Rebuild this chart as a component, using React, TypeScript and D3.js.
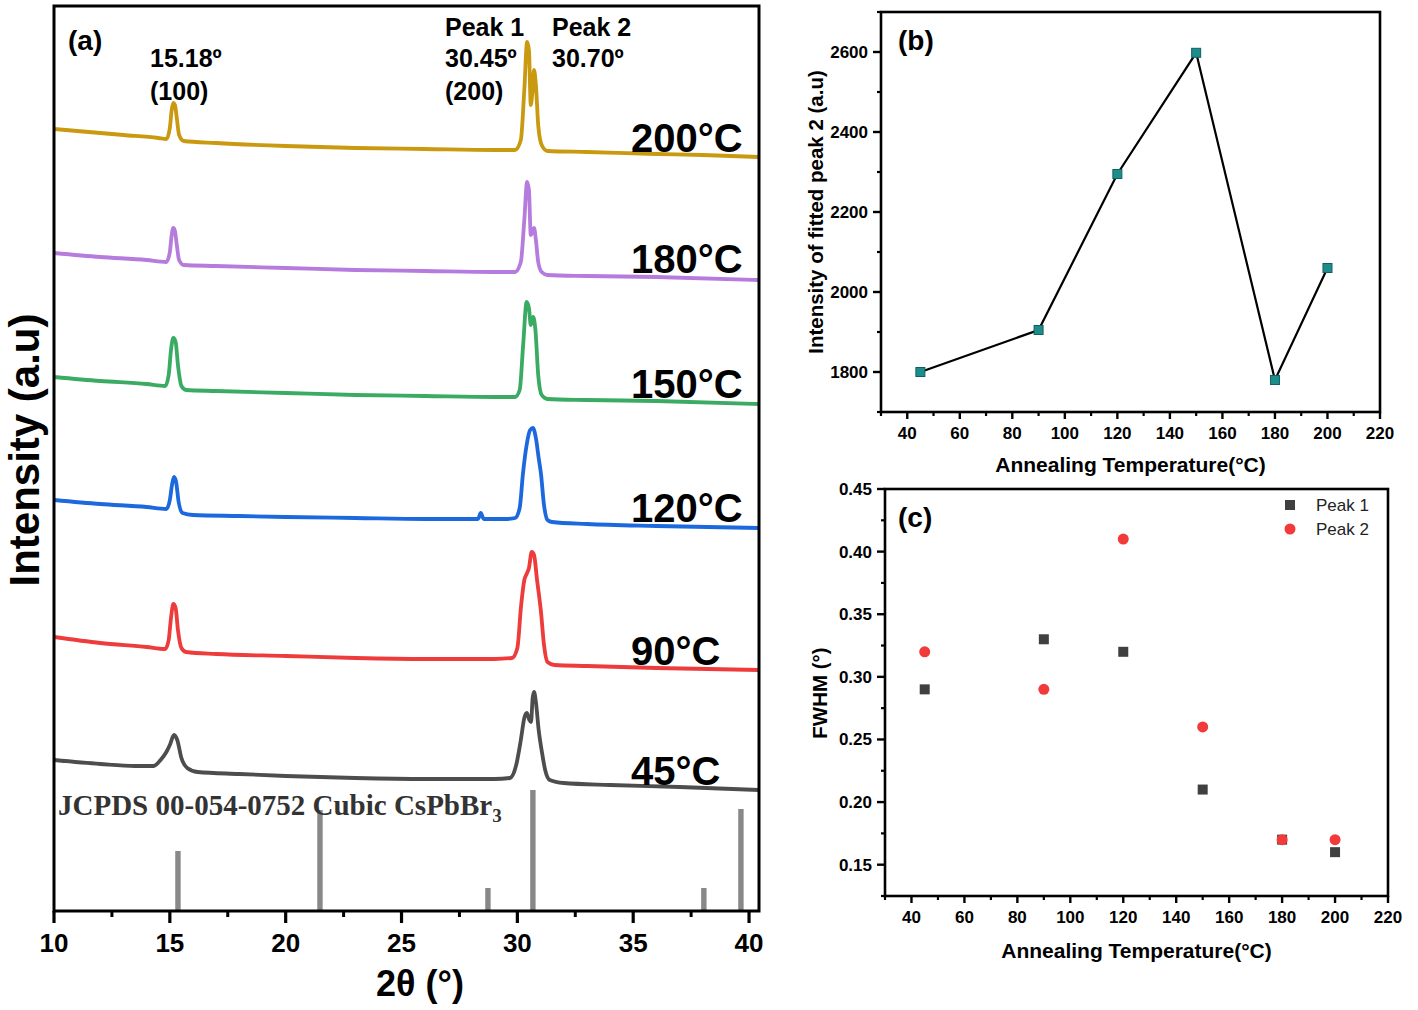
import React from 'react';
import * as d3 from 'd3';

const FONT = '"Liberation Sans", Arial, Helvetica, sans-serif';
const SERIF = '"Liberation Serif", "Times New Roman", serif';

// ---------- Panel (a): XRD patterns, [2θ (°), stacked intensity (a.u.)] ----------
const xrd200: [number, number][] = [
  [10, 782], [11.5, 779], [13, 776], [14.5, 773], [14.85, 772], [15.0, 783], [15.08, 801], [15.15, 808],
  [15.22, 806], [15.3, 793], [15.4, 776], [15.6, 770], [17, 768], [20, 765], [23, 763], [26, 762],
  [29, 761], [29.9, 761], [30.15, 771], [30.3, 821], [30.42, 869], [30.5, 861], [30.58, 806], [30.65, 819],
  [30.72, 841], [30.8, 826], [30.9, 786], [31.05, 766], [31.3, 760], [33, 759], [36, 757], [38, 756], [40.43, 754],
];
const xrd180: [number, number][] = [
  [10, 658], [12, 654], [14, 651], [14.85, 649], [15.0, 659], [15.08, 676], [15.15, 683], [15.22, 680],
  [15.3, 666], [15.4, 651], [15.6, 646], [17, 645], [20, 643], [23, 641], [26, 640], [29, 639],
  [29.9, 639], [30.15, 649], [30.3, 691], [30.42, 729], [30.5, 721], [30.58, 676], [30.65, 679], [30.72, 683],
  [30.8, 671], [30.9, 649], [31.05, 639], [31.3, 636], [33, 635], [36, 634], [40.43, 631],
];
const xrd150: [number, number][] = [
  [10, 534], [12, 530], [14, 527], [14.8, 525], [14.95, 536], [15.05, 561], [15.15, 573], [15.25, 569],
  [15.35, 546], [15.5, 525], [15.7, 521], [17, 520], [20, 518], [23, 516], [26, 515], [29, 514],
  [29.9, 514], [30.1, 521], [30.25, 566], [30.4, 609], [30.5, 603], [30.58, 586], [30.68, 594], [30.78, 581],
  [30.9, 536], [31.05, 516], [31.3, 512], [33, 511], [36, 510], [40.43, 507],
];
const xrd120: [number, number][] = [
  [10, 411], [12, 407], [14, 404], [14.85, 402], [15.0, 411], [15.1, 427], [15.18, 434], [15.27, 429],
  [15.38, 409], [15.55, 398], [16, 396], [18, 395], [20, 394], [23, 393], [26, 392], [28.3, 392],
  [28.42, 398], [28.55, 392], [29.5, 392], [29.9, 393], [30.1, 403], [30.24, 437], [30.4, 466], [30.55, 481],
  [30.67, 483], [30.8, 473], [30.92, 453], [31.02, 437], [31.15, 406], [31.3, 391], [31.5, 389], [33, 387],
  [36, 385], [40.43, 383],
];
const xrd90: [number, number][] = [
  [10, 274], [12, 268], [14, 264], [14.8, 262], [14.95, 271], [15.05, 293], [15.15, 307], [15.25, 303],
  [15.35, 281], [15.5, 263], [15.7, 259], [17, 257], [20, 255], [23, 253], [26, 252], [29, 252],
  [29.77, 253], [30.0, 263], [30.16, 305], [30.3, 331], [30.4, 337], [30.5, 343], [30.62, 359], [30.72, 356],
  [30.85, 331], [31.02, 299], [31.15, 266], [31.3, 249], [31.6, 246], [33, 245], [36, 243], [40.43, 241],
];
const xrd45: [number, number][] = [
  [10, 151], [12, 147], [13.5, 145], [14.3, 145], [14.6, 151], [14.85, 159], [15.0, 166], [15.18, 176],
  [15.32, 171], [15.5, 153], [15.75, 143], [16.2, 139], [18, 137], [20, 135], [23, 133], [26, 132],
  [29, 132], [29.68, 133], [29.95, 146], [30.15, 171], [30.3, 193], [30.41, 198], [30.52, 191], [30.59, 189],
  [30.66, 213], [30.72, 219], [30.8, 209], [30.92, 181], [31.06, 159], [31.2, 141], [31.4, 131], [32, 128],
  [34, 126], [37, 124], [40.43, 121],
];
const xrdLabels = ['200°C', '180°C', '150°C', '120°C', '90°C', '45°C'];
const xrdColors = ['#C9990F', '#B57BDD', '#3BAA63', '#1C68DD', '#EE3B3B', '#4D4D4D'];
const xrdData = [xrd200, xrd180, xrd150, xrd120, xrd90, xrd45];

// JCPDS 00-054-0752 reference lines
const refAngles = [15.35, 21.48, 28.73, 30.67, 38.05, 39.65];
const refHeights = [60, 101, 23, 121, 23, 102];

const xTicksA = [10, 15, 20, 25, 30, 35, 40];
const xMinorA = [12.5, 17.5, 22.5, 27.5, 32.5, 37.5];

// ---------- Panels (b) and (c) ----------
const annealTemps = [45, 90, 120, 150, 180, 200];
const peak2Intensity = [1800, 1905, 2295, 2598, 1780, 2060];
const fwhmPeak1 = [0.29, 0.33, 0.32, 0.21, 0.17, 0.16];
const fwhmPeak2 = [0.32, 0.29, 0.41, 0.26, 0.17, 0.17];

const tempTicks = [40, 60, 80, 100, 120, 140, 160, 180, 200, 220];
const tempMinor = [30, 50, 70, 90, 110, 130, 150, 170, 190, 210];
const intTicks = [1800, 2000, 2200, 2400, 2600];
const intMinor = [1700, 1900, 2100, 2300, 2500, 2700];
const fwhmTicks = [0.15, 0.2, 0.25, 0.3, 0.35, 0.4, 0.45];
const fwhmMinor = [0.125, 0.175, 0.225, 0.275, 0.325, 0.375, 0.425];

function PanelA() {
  const x = d3.scaleLinear().domain([10, 40.43]).range([54, 759]);
  const y = d3.scaleLinear().domain([0, 905]).range([911, 6]);
  const line = d3
    .line<[number, number]>()
    .x((d) => x(d[0]))
    .y((d) => y(d[1]))
    .curve(d3.curveMonotoneX);
  const labelBase = [152, 273, 398, 522, 665, 785];
  const [x0, x1] = x.range();
  const [yb, yt] = y.range();
  return (
    <g>
      <defs>
        <clipPath id="clipA">
          <rect x={x0} y={yt} width={x1 - x0} height={yb - yt} />
        </clipPath>
      </defs>
      <g clipPath="url(#clipA)">
        {refAngles.map((a, i) => (
          <rect key={i} x={x(a) - 2.7} y={y(refHeights[i])} width={5.4} height={y(0) - y(refHeights[i])} fill="#888888" />
        ))}
        {xrdData.map((d, i) => (
          <path key={i} d={line(d) || ''} fill="none" stroke={xrdColors[i]} strokeWidth={3.8} strokeLinejoin="round" />
        ))}
      </g>
      <text x={58} y={815} fontFamily={SERIF} fontWeight="bold" fontSize={29} fill="#333">
        JCPDS 00-054-0752 Cubic CsPbBr<tspan fontSize={19} dy={7}>3</tspan>
      </text>
      {xrdLabels.map((l, i) => (
        <text key={l} x={631} y={labelBase[i]} fontFamily={FONT} fontWeight="bold" fontSize={40} fill="#000">
          {l}
        </text>
      ))}
      <rect x={x0} y={yt} width={x1 - x0} height={yb - yt} fill="none" stroke="#000" strokeWidth={3} />
      {xTicksA.map((t) => (
        <g key={t}>
          <line x1={x(t)} x2={x(t)} y1={yb} y2={yb + 12} stroke="#000" strokeWidth={3.2} />
          <text x={x(t)} y={952} textAnchor="middle" fontFamily={FONT} fontWeight="bold" fontSize={26}>
            {t}
          </text>
        </g>
      ))}
      {xMinorA.map((t) => (
        <line key={t} x1={x(t)} x2={x(t)} y1={yb} y2={yb + 6} stroke="#000" strokeWidth={3} />
      ))}
      <text x={420} y={996} textAnchor="middle" fontFamily={FONT} fontWeight="bold" fontSize={36}>
        2θ (°)
      </text>
      <text
        transform="translate(39,450) rotate(-90)"
        textAnchor="middle"
        fontFamily={FONT}
        fontWeight="bold"
        fontSize={42}
      >
        Intensity (a.u)
      </text>
      <text x={68} y={50} fontFamily={FONT} fontWeight="bold" fontSize={28}>(a)</text>
      <g fontFamily={FONT} fontWeight="bold" fontSize={25}>
        <text x={150} y={67}>15.18º</text>
        <text x={150} y={100}>(100)</text>
        <text x={445} y={36}>Peak 1</text>
        <text x={445} y={67}>30.45º</text>
        <text x={445} y={100}>(200)</text>
        <text x={552} y={36}>Peak 2</text>
        <text x={552} y={67}>30.70º</text>
      </g>
    </g>
  );
}

function AxesBox({
  x,
  y,
  yTicks,
  yMinor,
  fmt,
  xTitle,
  yTitle,
  yTitleY,
  xTitleBase,
  xLabelBase,
}: any) {
  const [x0, x1] = x.range();
  const [yb, yt] = y.range();
  return (
    <g fontFamily={FONT}>
      <rect x={x0} y={yt} width={x1 - x0} height={yb - yt} fill="none" stroke="#000" strokeWidth={2.6} />
      {tempTicks.map((t: number) => (
        <g key={t}>
          <line x1={x(t)} x2={x(t)} y1={yb} y2={yb + 7} stroke="#000" strokeWidth={2.4} />
          <text x={x(t)} y={xLabelBase} textAnchor="middle" fontWeight="bold" fontSize={17}>{t}</text>
        </g>
      ))}
      {tempMinor.map((t: number) => (
        <line key={t} x1={x(t)} x2={x(t)} y1={yb} y2={yb + 4} stroke="#000" strokeWidth={2.2} />
      ))}
      {yTicks.map((t: number) => (
        <g key={t}>
          <line x1={x0 - 8} x2={x0} y1={y(t)} y2={y(t)} stroke="#000" strokeWidth={2.4} />
          <text x={x0 - 13} y={y(t) + 6} textAnchor="end" fontWeight="bold" fontSize={17}>{fmt(t)}</text>
        </g>
      ))}
      {yMinor.map((t: number) => (
        <line key={t} x1={x0 - 4} x2={x0} y1={y(t)} y2={y(t)} stroke="#000" strokeWidth={2.2} />
      ))}
      <text x={(x0 + x1) / 2} y={xTitleBase} textAnchor="middle" fontWeight="bold" fontSize={21}>
        {xTitle}
      </text>
      <text
        transform={`translate(${x0 - 58},${yTitleY}) rotate(-90)`}
        textAnchor="middle"
        fontWeight="bold"
        fontSize={20.5}
      >
        {yTitle}
      </text>
    </g>
  );
}

function PanelB() {
  const x = d3.scaleLinear().domain([30, 220]).range([881, 1380]);
  const y = d3.scaleLinear().domain([1700, 2700]).range([412, 12]);
  const pts = annealTemps.map((t, i) => [t, peak2Intensity[i]] as [number, number]);
  const line = d3.line<[number, number]>().x((d) => x(d[0])).y((d) => y(d[1]));
  return (
    <g>
      <AxesBox
        x={x}
        y={y}
        yTicks={intTicks}
        yMinor={intMinor}
        fmt={(v: number) => String(v)}
        xTitle="Annealing Temperature(°C)"
        yTitle="Intensity of fitted peak 2 (a.u)"
        yTitleY={212}
        xTitleBase={472}
        xLabelBase={439}
      />
      <path d={line(pts) || ''} fill="none" stroke="#000" strokeWidth={2.2} />
      {pts.map((p, i) => (
        <rect key={i} x={x(p[0]) - 4.5} y={y(p[1]) - 4.5} width={9} height={9} fill="#1E8C8A" stroke="#0E6262" strokeWidth={1} />
      ))}
      <text x={898} y={50} fontFamily={FONT} fontWeight="bold" fontSize={28}>(b)</text>
    </g>
  );
}

function PanelC() {
  const x = d3.scaleLinear().domain([30, 220]).range([885, 1388]);
  const y = d3.scaleLinear().domain([0.125, 0.45]).range([896, 489]);
  return (
    <g>
      <AxesBox
        x={x}
        y={y}
        yTicks={fwhmTicks}
        yMinor={fwhmMinor}
        fmt={(v: number) => d3.format('.2f')(v)}
        xTitle="Annealing Temperature(°C)"
        yTitle="FWHM (°)"
        yTitleY={693}
        xTitleBase={958}
        xLabelBase={923}
      />
      {annealTemps.map((t, i) => (
        <rect key={'s' + i} x={x(t) - 5} y={y(fwhmPeak1[i]) - 5} width={10} height={10} fill="#404040" />
      ))}
      {annealTemps.map((t, i) => (
        <circle key={'c' + i} cx={x(t)} cy={y(fwhmPeak2[i])} r={5.5} fill="#F23A3A" />
      ))}
      <rect x={1285} y={500} width={10} height={10} fill="#404040" />
      <circle cx={1290} cy={529} r={5.5} fill="#F23A3A" />
      <g fontFamily={FONT} fontSize={17} fill="#222">
        <text x={1316} y={511}>Peak 1</text>
        <text x={1316} y={535}>Peak 2</text>
      </g>
      <text x={898} y={527} fontFamily={FONT} fontWeight="bold" fontSize={28}>(c)</text>
    </g>
  );
}

export default function App() {
  return (
    <svg
      width={1418}
      height={1010}
      viewBox="0 0 1418 1010"
      style={{ position: 'absolute', left: 0, top: 0, background: '#fff' }}
    >
      <rect width={1418} height={1010} fill="#fff" />
      <PanelA />
      <PanelB />
      <PanelC />
    </svg>
  );
}
